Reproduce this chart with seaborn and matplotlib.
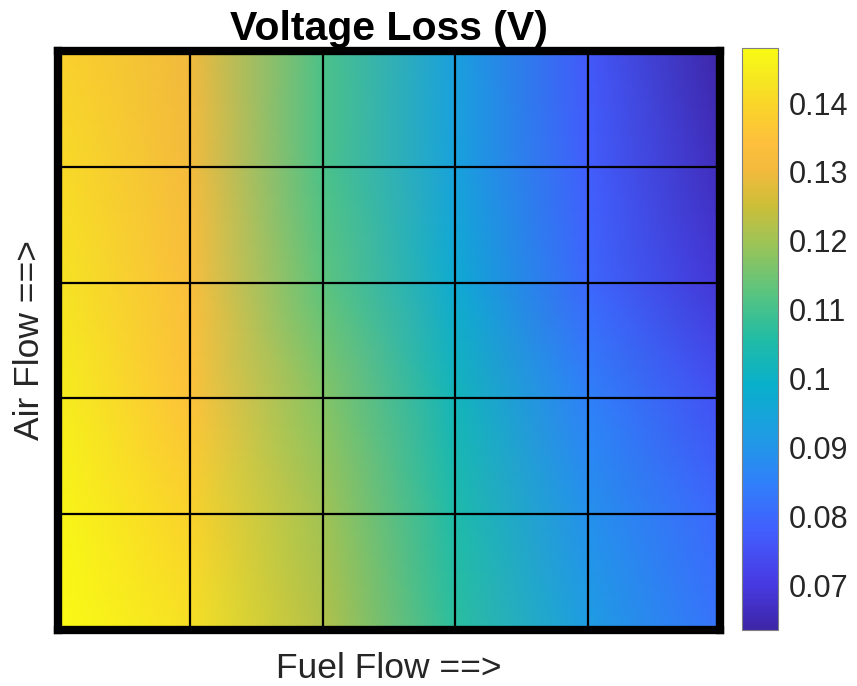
import numpy as np
import matplotlib
matplotlib.use("Agg")
import matplotlib.pyplot as plt
from matplotlib.colors import LinearSegmentedColormap
from matplotlib.ticker import FuncFormatter
import seaborn as sns

# Operating grid: fuel flow steps (columns) and air flow steps (rows, low -> high)
fuel_levels = [1, 2, 3, 4, 5, 6]
air_levels = [1, 2, 3, 4, 5, 6]

# Voltage loss (V) at each grid node, one list per air flow level (lowest first)
loss_air1 = [0.148, 0.142, 0.122, 0.107, 0.092, 0.082]
loss_air2 = [0.147, 0.139, 0.120, 0.105, 0.089, 0.080]
loss_air3 = [0.145, 0.135, 0.117, 0.102, 0.085, 0.075]
loss_air4 = [0.143, 0.133, 0.113, 0.097, 0.080, 0.069]
loss_air5 = [0.141, 0.131, 0.111, 0.094, 0.078, 0.066]
loss_air6 = [0.139, 0.130, 0.111, 0.0935, 0.077, 0.0635]

cbar_ticks = [0.07, 0.08, 0.09, 0.10, 0.11, 0.12, 0.13, 0.14]

sns.set_theme(style="white")
plt.rcParams["font.family"] = ["Liberation Sans", "DejaVu Sans"]

# Parula-like colour map (position, colour)
parula_pts = [
    (0.00, (0.2422, 0.1504, 0.6603)),
    (0.08, (0.2780, 0.2300, 0.8900)),
    (0.17, (0.2580, 0.3700, 0.9950)),
    (0.25, (0.1900, 0.4990, 0.9820)),
    (0.33, (0.1230, 0.6080, 0.8960)),
    (0.42, (0.0350, 0.6900, 0.7950)),
    (0.50, (0.1300, 0.7380, 0.6480)),
    (0.58, (0.3500, 0.7680, 0.5000)),
    (0.66, (0.6000, 0.7700, 0.3500)),
    (0.73, (0.8000, 0.7450, 0.2200)),
    (0.79, (0.9500, 0.7300, 0.2400)),
    (0.84, (0.9950, 0.7500, 0.2350)),
    (0.90, (0.9800, 0.8300, 0.1650)),
    (0.95, (0.9600, 0.9100, 0.1300)),
    (1.00, (0.9769, 0.9839, 0.0805)),
]
parula = LinearSegmentedColormap.from_list("parula", parula_pts, N=256)

Z = np.array([loss_air1, loss_air2, loss_air3, loss_air4, loss_air5, loss_air6])
X, Y = np.meshgrid(fuel_levels, air_levels)

fig = plt.figure(figsize=(8.57, 6.86), dpi=100)
ax = fig.add_axes([58 / 857, 1 - 630 / 686, (720 - 58) / 857, (630 - 51) / 686])
cax = fig.add_axes([742 / 857, 1 - 630 / 686, 36 / 857, (630 - 48) / 686])

mesh = ax.pcolormesh(X, Y, Z, shading="gouraud", cmap=parula,
                     vmin=Z.min(), vmax=Z.max())
ax.set_xlim(fuel_levels[0], fuel_levels[-1])
ax.set_ylim(air_levels[0], air_levels[-1])

ax.set_xticks(fuel_levels)
ax.set_yticks(air_levels)
ax.set_xticklabels([])
ax.set_yticklabels([])
ax.tick_params(length=0)
ax.set_axisbelow(False)
ax.grid(True, color="black", linewidth=1.6)
for sp in ax.spines.values():
    sp.set_visible(True)
    sp.set_color("black")
    sp.set_linewidth(6)

ax.set_title("Voltage Loss (V)", fontsize=29.5, fontweight="bold", pad=8,
             color="black")
ax.set_xlabel("Fuel Flow ==>", fontsize=25.5, labelpad=12, color="#262626")
ax.set_ylabel("Air Flow ==>", fontsize=25.5, labelpad=5, color="#262626")

cb = fig.colorbar(mesh, cax=cax)
cb.set_ticks(cbar_ticks)
cb.ax.yaxis.set_major_formatter(FuncFormatter(lambda v, p: f"{v:g}"))
cb.ax.tick_params(direction="in", length=5, width=1, labelsize=22,
                  colors="#262626", pad=8)
cb.outline.set_linewidth(0.8)
cb.outline.set_edgecolor("#7f7f7f")

fig.savefig("out.png", dpi=100)
